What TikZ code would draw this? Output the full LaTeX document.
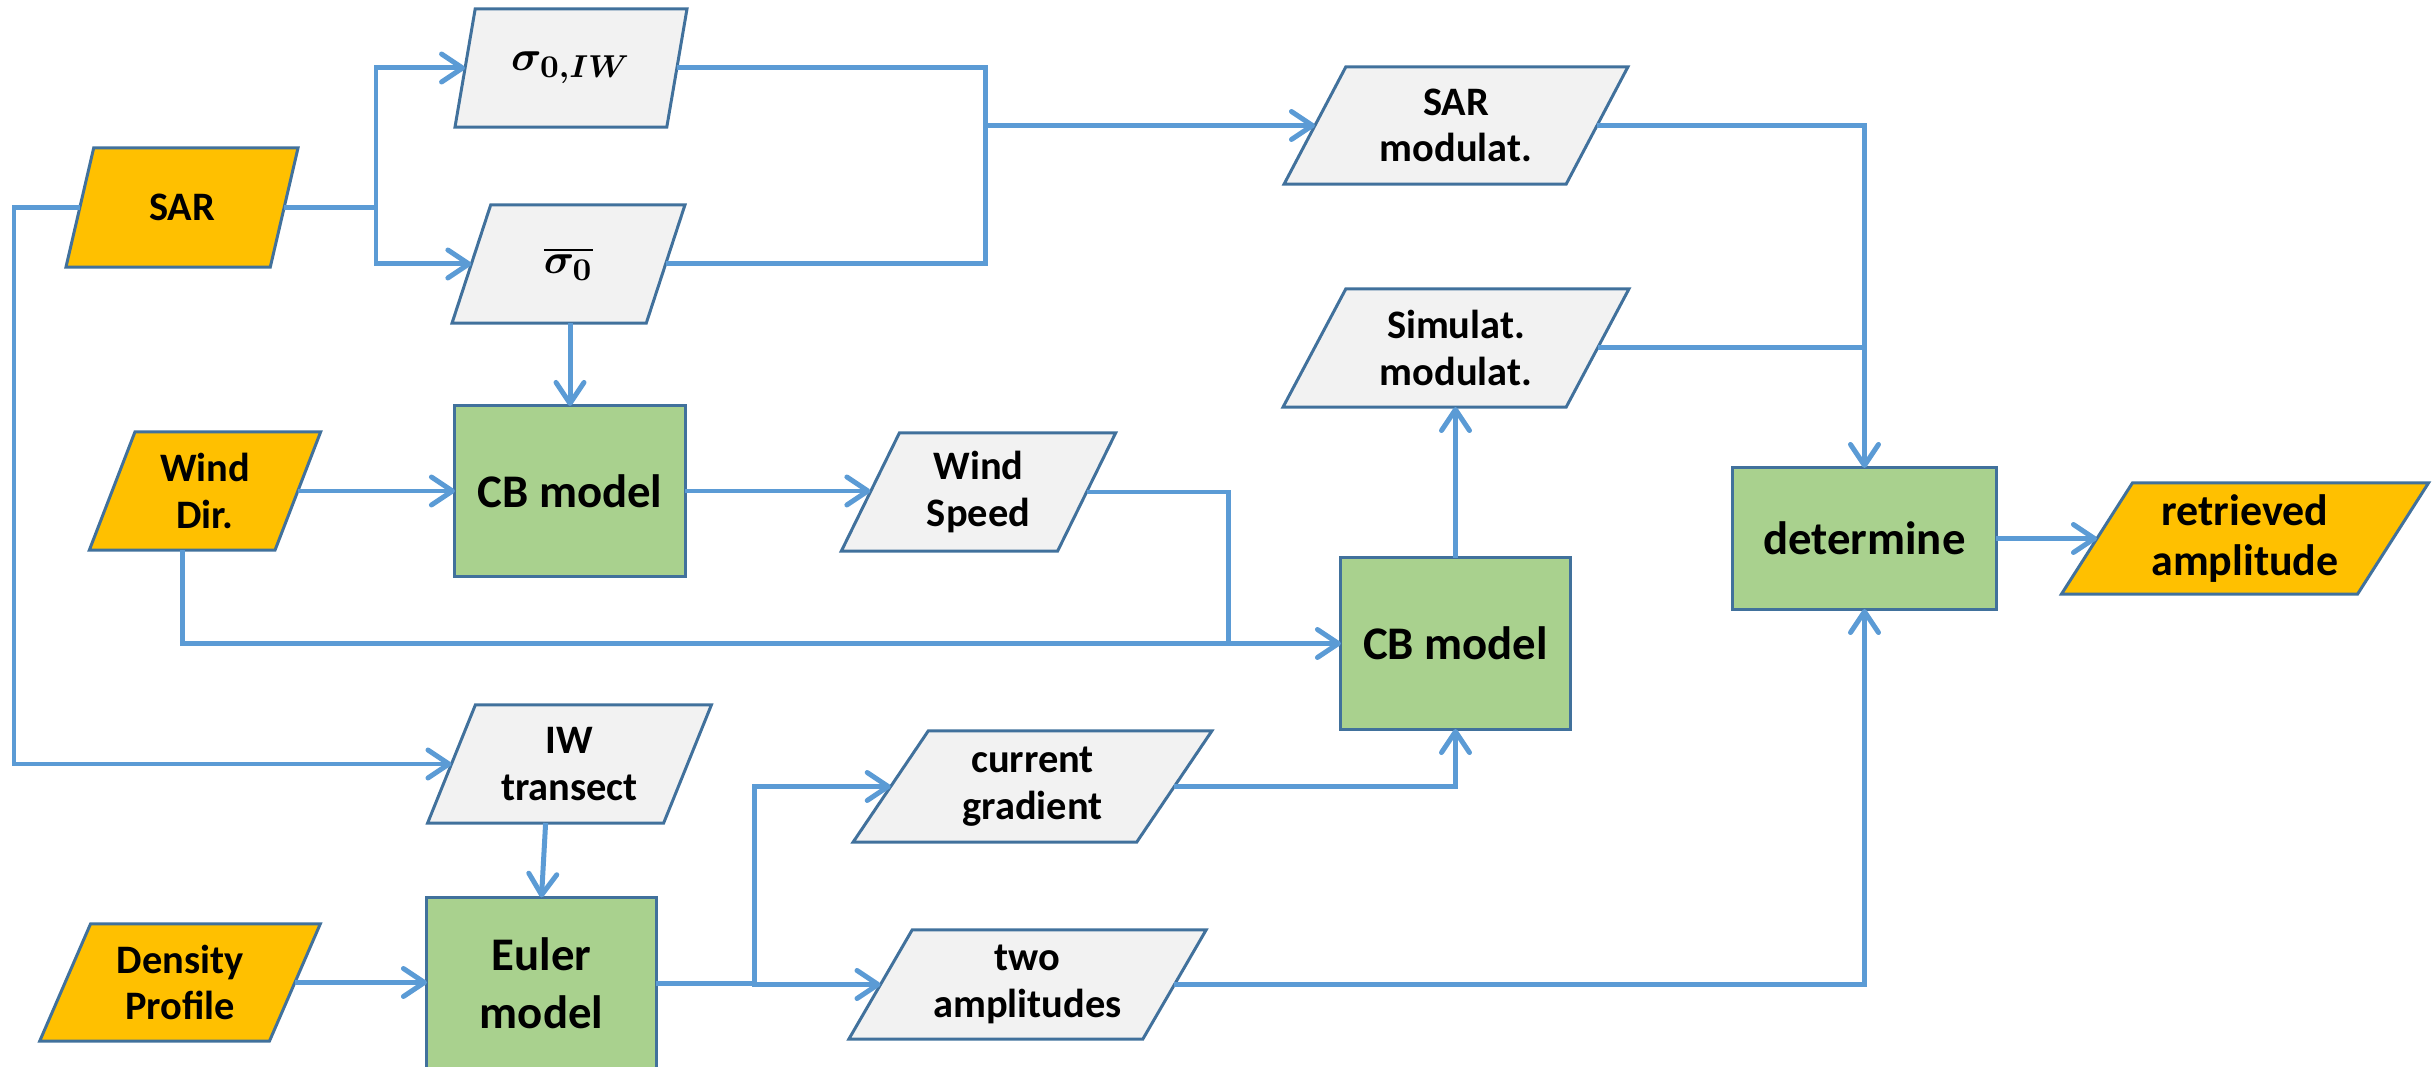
\documentclass[tikz,border=0pt]{standalone}
\usepackage{fontspec}
\setmainfont{Carlito}
\usetikzlibrary{shapes.geometric,arrows.meta,calc}
\definecolor{conncol}{HTML}{5B9BD5}
\definecolor{bordcol}{HTML}{41719C}
\definecolor{inorange}{HTML}{FFC000}
\definecolor{procgreen}{HTML}{A9D18E}
\definecolor{datagray}{HTML}{F2F2F2}
\begin{document}
\begin{tikzpicture}[x=0.01cm,y=-0.01cm,
  para/.style={trapezium, trapezium stretches=true, draw=bordcol, line width=0.85pt,
    inner sep=0pt, outer sep=0pt, align=center,
    font=\fontsize{11.5}{13.2}\selectfont\bfseries},
  datap/.style={para, fill=datagray},
  inp/.style={para, fill=inorange},
  proc/.style={rectangle, draw=bordcol, line width=0.85pt, fill=procgreen,
    inner sep=0pt, outer sep=0pt, align=center,
    font=\fontsize{13.3}{16.4}\selectfont\bfseries},
  mathlabel/.style={font=\fontsize{12.5}{15}\selectfont\boldmath},
  conn/.style={draw=conncol, line width=1.42pt},
  arr/.style={conn, -{Straight Barb[length=2.1mm,width=2.8mm,round]}}
]
\useasboundingbox (0,0) rectangle (2432,1067);

% input parallelograms
\node[inp, trapezium left angle=68.9, trapezium right angle=111.1,
  minimum width=2.32cm, minimum height=1.19cm] (sar) at (182,207.5) {SAR};
\node[inp, trapezium left angle=68.7, trapezium right angle=111.3,
  minimum width=2.32cm, minimum height=1.18cm] (wd) at (205,491) {Wind\\Dir.};
\node[inp, trapezium left angle=64.4, trapezium right angle=115.6,
  minimum width=2.82cm, minimum height=1.17cm] (dp) at (180,982.5) {Density\\Profile};
\node[inp, trapezium left angle=56.3, trapezium right angle=123.7,
  minimum width=3.68cm, minimum height=1.11cm,
  font=\fontsize{12.5}{14.4}\selectfont\bfseries] (ret) at (2245,538.5) {retrieved\\amplitude};

% data parallelograms
\node[datap, mathlabel, trapezium left angle=68.3, trapezium right angle=111.7,
  minimum width=2.32cm, minimum height=1.18cm] (s0iw) at (571,68) {$\sigma_{0,IW}$};
\node[datap, mathlabel, trapezium left angle=69.1, trapezium right angle=110.9,
  minimum width=2.33cm, minimum height=1.18cm] (s0bar) at (568.5,264) {$\overline{\sigma_{0}}$};
\node[datap, trapezium left angle=59.8, trapezium right angle=120.2,
  minimum width=3.46cm, minimum height=1.17cm] (sarmod) at (1456,125.5) {SAR\\modulat.};
\node[datap, trapezium left angle=60.0, trapezium right angle=120.0,
  minimum width=3.46cm, minimum height=1.18cm] (sim) at (1456,348) {Simulat.\\modulat.};
\node[datap, trapezium left angle=65.0, trapezium right angle=115.0,
  minimum width=2.75cm, minimum height=1.18cm] (ws) at (978.5,492) {Wind\\Speed};
\node[datap, trapezium left angle=64.6, trapezium right angle=115.4,
  minimum width=2.85cm, minimum height=1.18cm] (iw) at (569.5,764) {IW\\transect};
\node[datap, trapezium left angle=57.4, trapezium right angle=122.6,
  minimum width=3.59cm, minimum height=1.11cm] (cg) at (1032.5,786.5) {current\\gradient};
\node[datap, trapezium left angle=56.6, trapezium right angle=123.4,
  minimum width=3.59cm, minimum height=1.09cm] (ta) at (1027.5,984.5) {two\\amplitudes};

% process boxes
\node[proc, minimum width=2.30cm, minimum height=1.70cm] (cb1) at (570,491) {CB model};
\node[proc, minimum width=2.29cm, minimum height=1.71cm] (cb2) at (1455.5,643.5) {CB model};
\node[proc, minimum width=2.63cm, minimum height=1.41cm] (det) at (1864.5,538.5) {determine};
\node[proc, minimum width=2.29cm, minimum height=1.72cm] (euler) at (541.5,983.5) {Euler\\model};

% junction points
\coordinate (j1) at (376,207.5);
\coordinate (jL) at (14,764);
\coordinate (j2) at (985,125.5);
\coordinate (j3) at (1228,643.5);
\coordinate (j5) at (754,983.5);

% connectors
\draw[conn] (sar.right side) -- (j1);
\draw[arr] (j1) |- (s0iw.left side);
\draw[arr] (j1) |- (s0bar.left side);
\draw[arr] (sar.left side) -| (jL) -- (iw.left side);

\draw[conn] (s0iw.right side) -| (j2);
\draw[conn] (s0bar.right side) -| (j2);
\draw[arr] (j2) -- (sarmod.left side);

\draw[arr] (cb1.north |- s0bar.bottom side) -- (cb1.north);
\draw[arr] (wd.right side) -- (cb1.west);
\draw[arr] (cb1.east) -- (cb1.east -| ws.left side);
\draw[conn] (ws.right side) -| (j3);
\draw[arr] (wd.bottom side) |- (cb2.west);

\draw[arr] (cb2.north) -- (cb2.north |- sim.bottom side);
\draw[conn] (sim.right side) -- (sim.right side -| det.north);
\draw[arr] (sarmod.right side) -| (det.north);
\draw[arr] (cg.right side) -| (cb2.south);

\draw[arr] (iw.bottom side) -- (euler.north);
\draw[arr] (dp.right side) -- (dp.right side -| euler.west);
\draw[conn] (euler.east) -- (j5);
\draw[arr] (j5) |- (cg.left side);
\draw[arr] (j5) |- (ta.left side);
\draw[arr] (ta.right side) -| (det.south);
\draw[arr] (det.east) -- (det.east -| ret.left side);
\end{tikzpicture}
\end{document}
